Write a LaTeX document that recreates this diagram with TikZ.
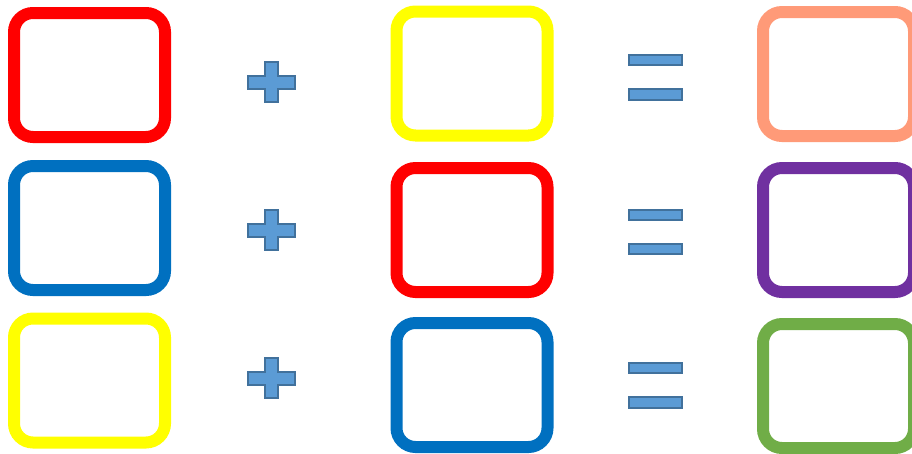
\documentclass[tikz,border=0pt]{standalone}
\usepackage{tikz}
\usepackage{xcolor}
\usetikzlibrary{positioning}

\definecolor{boxred}{HTML}{FF0000}
\definecolor{boxyellow}{HTML}{FFFF00}
\definecolor{boxsalmon}{HTML}{FF9A78}
\definecolor{boxblue}{HTML}{0070C0}
\definecolor{boxpurple}{HTML}{7030A0}
\definecolor{boxgreen}{HTML}{70AD47}
\definecolor{signfill}{HTML}{5B9BD5}
\definecolor{signdraw}{HTML}{41719C}

\begin{document}
\begin{tikzpicture}[
  x=1pt, y=-1pt,
  slot/.style={rectangle, rounded corners=19pt, line width=12pt,
               minimum width=151pt, minimum height=124pt, inner sep=0pt},
  sign/.style={fill=signfill, draw=signdraw, line width=2pt},
  plussign/.pic={
    \path[sign] (-6.5,-20) -- (6.5,-20) -- (6.5,-6.5) -- (23.5,-6.5)
      -- (23.5,6.5) -- (6.5,6.5) -- (6.5,20) -- (-6.5,20) -- (-6.5,6.5)
      -- (-23.5,6.5) -- (-23.5,-6.5) -- (-6.5,-6.5) -- cycle;
  },
  eqsign/.pic={
    \path[sign] (-26.5,-22.5) rectangle (26.5,-12.5);
    \path[sign] (-26.5,11.5) rectangle (26.5,22);
  }
]
\useasboundingbox (0,0) rectangle (912,453);

% Row 1
\node[slot, draw=boxred]    (a1) at (89.5,75)  {};
\node[slot, draw=boxyellow] (b1) at (472,73.5) {};
\node[slot, draw=boxsalmon] (c1) at (838.5,74) {};
\pic at (271.5,82)   {plussign};
\pic at (655.5,77.5) {eqsign};

% Row 2
\node[slot, draw=boxblue]   (a2) at (89.5,228) {};
\node[slot, draw=boxred]    (b2) at (472,230)  {};
\node[slot, draw=boxpurple] (c2) at (838.5,230) {};
\pic at (271.5,230) {plussign};
\pic at (655.5,232) {eqsign};

% Row 3
\node[slot, draw=boxyellow] (a3) at (89.5,380.5) {};
\node[slot, draw=boxblue]   (b3) at (472,385)    {};
\node[slot, draw=boxgreen]  (c3) at (838.5,386)  {};
\pic at (271.5,378)   {plussign};
\pic at (655.5,385.5) {eqsign};

\end{tikzpicture}
\end{document}
